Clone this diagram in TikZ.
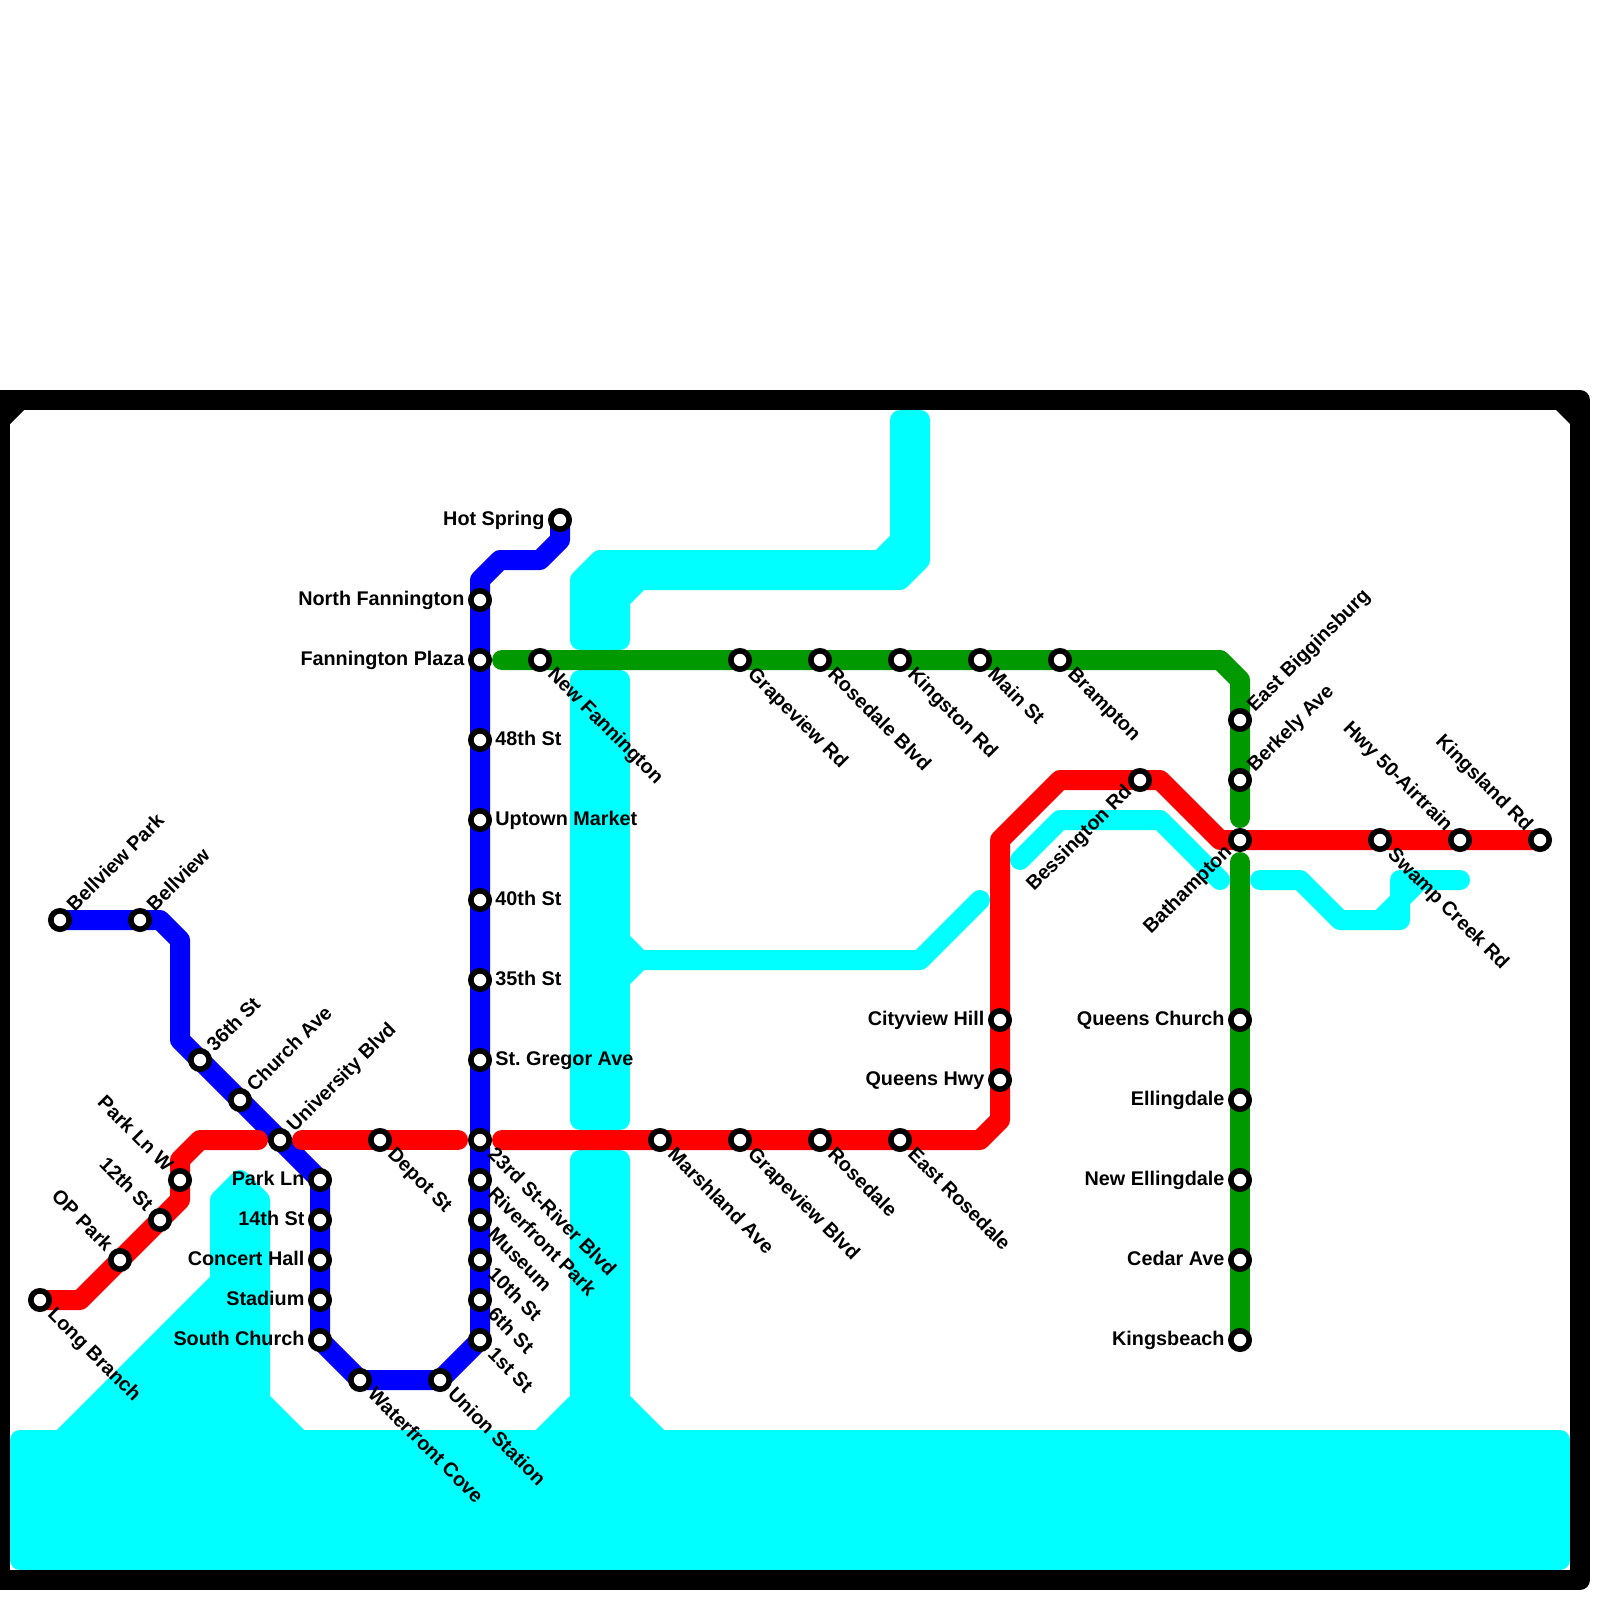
\documentclass[tikz,border=0pt]{standalone}
\usepackage{fontspec}
\setmainfont{Liberation Sans}
\definecolor{water}{RGB}{0,255,255}
\definecolor{lred}{RGB}{255,0,0}
\definecolor{lblue}{RGB}{0,0,255}
\definecolor{lgreen}{RGB}{0,153,0}
\pgfdeclarelayer{under}
\pgfsetlayers{under,main}
\tikzset{
  x=0.5pt,y=-0.5pt,
  waterbody/.style={fill=water,draw=water,line width=10pt,line join=round},
  waterline/.style={draw=water,line width=10pt,line join=round,line cap=round},
  metro/.style={line width=10pt,line join=round,line cap=round},
  frameline/.style={draw=black,line width=10pt,line join=round},
  stn/.style={circle,draw=black,fill=white,line width=2.8pt,minimum size=9.2pt,inner sep=0pt,outer sep=0pt},
  lbl/.style={font=\bfseries\fontsize{9.9}{10}\selectfont,text=black,inner sep=0pt,text height=7.2pt,text depth=0pt},
  lE/.style={lbl,anchor=west,xshift=7.5pt,yshift=0.9pt},
  lW/.style={lbl,anchor=east,xshift=-7.6pt,yshift=0.9pt},
  lSE/.style={lbl,anchor=west,rotate=-45,xshift=7.8pt,yshift=0.4pt},
  lNE/.style={lbl,anchor=west,rotate=45,xshift=7.8pt,yshift=1pt},
  lNW/.style={lbl,anchor=east,rotate=-45,xshift=-7.8pt,yshift=1pt},
  lSW/.style={lbl,anchor=east,rotate=45,xshift=-7pt,yshift=1.5pt},
}
\newcommand{\stE}[4]{\node[stn] (#1) at (#2,#3) {}; \node[lE] (#1l) at (#1) {#4};}
\newcommand{\stW}[4]{\node[stn] (#1) at (#2,#3) {}; \node[lW] (#1l) at (#1) {#4};}
\newcommand{\stSE}[4]{\node[stn] (#1) at (#2,#3) {}; \node[lSE] (#1l) at (#1) {#4};}
\newcommand{\stNE}[4]{\node[stn] (#1) at (#2,#3) {}; \node[lNE] (#1l) at (#1) {#4};}
\newcommand{\stNW}[4]{\node[stn] (#1) at (#2,#3) {}; \node[lNW] (#1l) at (#1) {#4};}
\newcommand{\stSW}[4]{\node[stn] (#1) at (#2,#3) {}; \node[lSW] (#1l) at (#1) {#4};}
\begin{document}
\begin{tikzpicture}
\useasboundingbox (0,0) rectangle (1600,1600);
\begin{scope}
\clip (0,0) rectangle (1600,1600);
% stations
\stW{hot}{560}{520}{Hot Spring}
\stW{nfan}{480}{600}{North Fannington}
\stW{fplaza}{480}{660}{Fannington Plaza}
\stE{s48}{480}{740}{48th St}
\stE{upt}{480}{820}{Uptown Market}
\stE{s40}{480}{900}{40th St}
\stE{s35}{480}{980}{35th St}
\stE{greg}{480}{1060}{St.\ Gregor Ave}
\stSE{s23}{480}{1140}{23rd St-River Blvd}
\stSE{river}{480}{1180}{Riverfront Park}
\stSE{mus}{480}{1220}{Museum}
\stSE{s10}{480}{1260}{10th St}
\stSE{s6}{480}{1300}{6th St}
\stSE{s1}{480}{1340}{1st St}
\stSE{union}{440}{1380}{Union Station}
\stSE{wfc}{360}{1380}{Waterfront Cove}
\stW{sch}{320}{1340}{South Church}
\stW{stad}{320}{1300}{Stadium}
\stW{conc}{320}{1260}{Concert Hall}
\stW{s14}{320}{1220}{14th St}
\stW{pln}{320}{1180}{Park Ln}
\stNE{univ}{280}{1140}{University Blvd}
\stNE{church}{240}{1100}{Church Ave}
\stNE{s36}{200}{1060}{36th St}
\stNE{bell}{140}{920}{Bellview}
\stNE{bellp}{60}{920}{Bellview Park}
\stSE{lb}{40}{1300}{Long Branch}
\stNW{op}{120}{1260}{OP Park}
\stNW{s12}{160}{1220}{12th St}
\stNW{plnw}{180}{1180}{Park Ln W}
\stSE{depot}{380}{1140}{Depot St}
\stSE{marsh}{660}{1140}{Marshland Ave}
\stSE{gblvd}{740}{1140}{Grapeview Blvd}
\stSE{rose}{820}{1140}{Rosedale}
\stSE{erose}{900}{1140}{East Rosedale}
\stW{qhwy}{1000}{1080}{Queens Hwy}
\stW{city}{1000}{1020}{Cityview Hill}
\stSW{bess}{1140}{780}{Bessington Rd}
\stSW{bath}{1240}{840}{Bathampton}
\stSE{swamp}{1380}{840}{Swamp Creek Rd}
\stNW{hwy}{1460}{840}{Hwy 50-Airtrain}
\stNW{king}{1540}{840}{Kingsland Rd}
\stSE{newf}{540}{660}{New Fannington}
\stSE{grd}{740}{660}{Grapeview Rd}
\stSE{rblvd}{820}{660}{Rosedale Blvd}
\stSE{kst}{900}{660}{Kingston Rd}
\stSE{main}{980}{660}{Main St}
\stSE{bram}{1060}{660}{Brampton}
\stNE{ebig}{1240}{720}{East Bigginsburg}
\stNE{berk}{1240}{780}{Berkely Ave}
\stW{qch}{1240}{1020}{Queens Church}
\stW{ell}{1240}{1100}{Ellingdale}
\stW{nell}{1240}{1180}{New Ellingdale}
\stW{ced}{1240}{1260}{Cedar Ave}
\stW{kb}{1240}{1340}{Kingsbeach}
% free line ends
\coordinate (rA) at (258,1140);
\coordinate (rB) at (302,1140);
\coordinate (rC) at (458,1140);
\coordinate (rD) at (502,1140);
\coordinate (gA) at (502,660);
\coordinate (gB) at (1240,818);
\coordinate (gC) at (1240,862);
\begin{pgfonlayer}{under}
% water
\path[waterbody] (20,1560) -- (20,1440) -- (61,1440) -- (220,1281) -- (220,1200) -- (240,1180) -- (260,1200) -- (260,1400) -- (300,1440) -- (540,1440) -- (580,1400) -- (580,1160) -- (620,1160) -- (620,1400) -- (660,1440) -- (1560,1440) -- (1560,1560) -- cycle;
\path[waterbody] (580,680) -- (620,680) -- (620,1120) -- (580,1120) -- cycle;
\path[waterbody] (580,640) -- (580,580) -- (600,560) -- (880,560) -- (900,540) -- (900,420) -- (920,420) -- (920,560) -- (900,580) -- (640,580) -- (620,600) -- (620,640) -- cycle;
\draw[waterline] (600,920) -- (640,960) -- (920,960) -- (980,900);
\draw[waterline] (600,1000) -- (640,960);
\draw[waterline] (1020,860) -- (1060,820) -- (1160,820) -- (1220,880);
\draw[waterline] (1260,880) -- (1300,880) -- (1340,920) -- (1400,920) -- (1400,880) -- (1460,880);
\draw[waterline] (1380,920) -- (1420,880);
% frame
\draw[frameline] (0,400) -- (1580,400) -- (1580,1580) -- (0,1580) -- cycle;
\fill[black] (10,410) -- (24,410) -- (10,424) -- cycle;
\fill[black] (1570,410) -- (1556,410) -- (1570,424) -- cycle;
% lines
\draw[metro,lblue] (bellp.center) -- (bell.center) -- (160,920) -- (180,940) -- (180,1040) -- (s36.center) -- (church.center) -- (univ.center) -- (pln.center) -- (s14.center) -- (conc.center) -- (stad.center) -- (sch.center) -- (wfc.center) -- (union.center) -- (s1.center) -- (s6.center) -- (s10.center) -- (mus.center) -- (river.center) -- (s23.center) -- (greg.center) -- (s35.center) -- (s40.center) -- (upt.center) -- (s48.center) -- (fplaza.center) -- (nfan.center) -- (480,580) -- (500,560) -- (540,560) -- (560,540) -- (hot.center);
\draw[metro,lgreen] (gA) -- (newf.center) -- (grd.center) -- (rblvd.center) -- (kst.center) -- (main.center) -- (bram.center) -- (1220,660) -- (1240,680) -- (ebig.center) -- (berk.center) -- (gB);
\draw[metro,lgreen] (gC) -- (qch.center) -- (ell.center) -- (nell.center) -- (ced.center) -- (kb.center);
\draw[metro,lred] (lb.center) -- (80,1300) -- (op.center) -- (s12.center) -- (180,1200) -- (plnw.center) -- (180,1160) -- (200,1140) -- (rA);
\draw[metro,lred] (rB) -- (depot.center) -- (rC);
\draw[metro,lred] (rD) -- (marsh.center) -- (gblvd.center) -- (rose.center) -- (erose.center) -- (980,1140) -- (1000,1120) -- (qhwy.center) -- (city.center) -- (1000,840) -- (1060,780) -- (bess.center) -- (1160,780) -- (1220,840) -- (bath.center) -- (swamp.center) -- (hwy.center) -- (king.center);
\end{pgfonlayer}
\end{scope}
\end{tikzpicture}
\end{document}
